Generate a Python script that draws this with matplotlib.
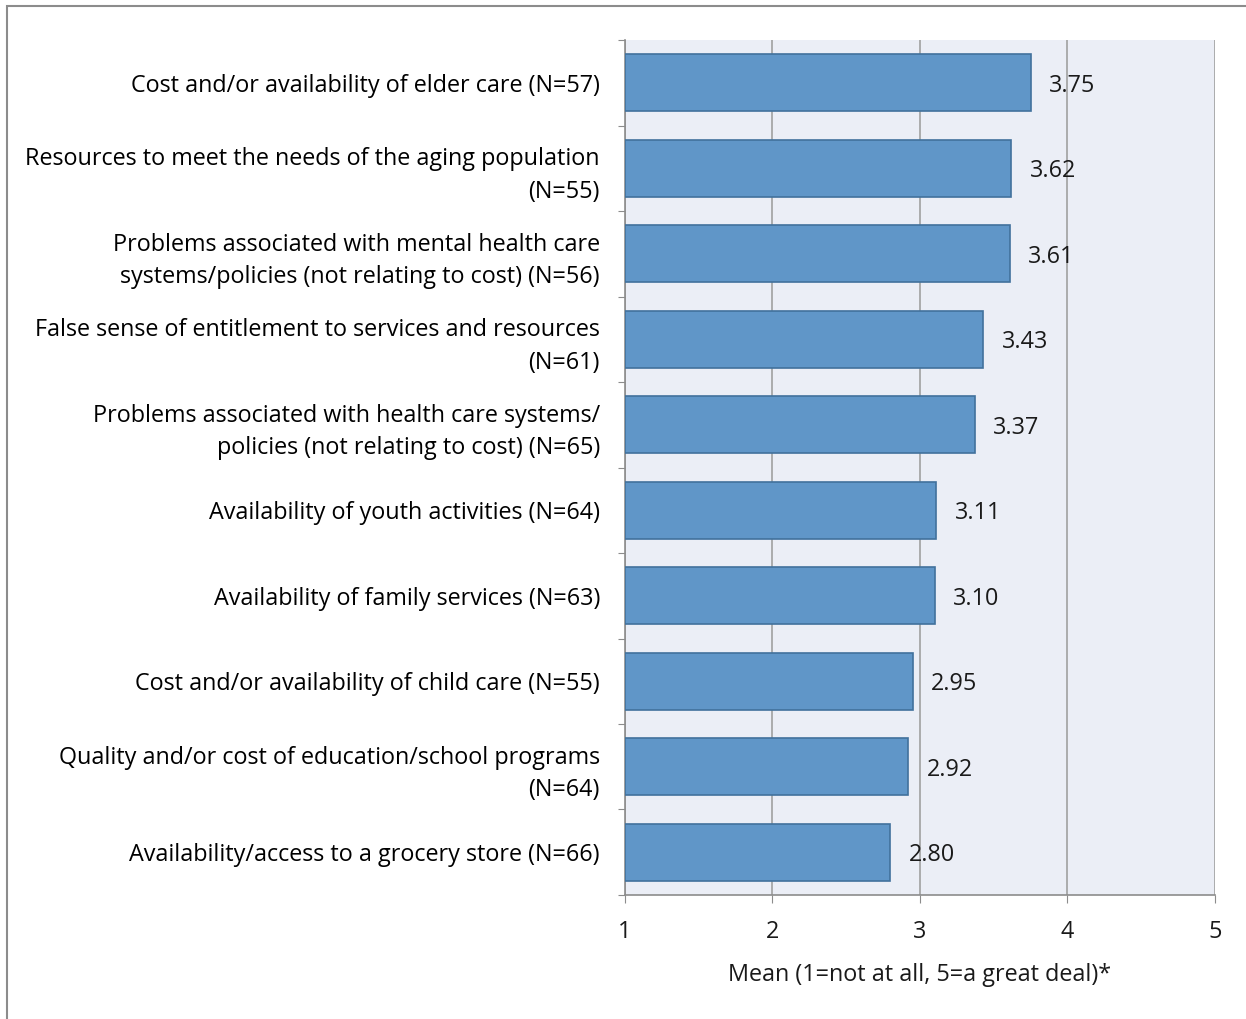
import matplotlib.pyplot as plt
from matplotlib.patches import Rectangle

categories = [
    'Cost and/or availability of elder care (N=57)',
    'Resources to meet the needs of the aging population\n(N=55)',
    'Problems associated with mental health care\nsystems/policies (not relating to cost) (N=56)',
    'False sense of entitlement to services and resources\n(N=61)',
    'Problems associated with health care systems/\npolicies (not relating to cost) (N=65)',
    'Availability of youth activities (N=64)',
    'Availability of family services (N=63)',
    'Cost and/or availability of child care (N=55)',
    'Quality and/or cost of education/school programs\n(N=64)',
    'Availability/access to a grocery store (N=66)',
]
means = [3.75, 3.62, 3.61, 3.43, 3.37, 3.11, 3.10, 2.95, 2.92, 2.80]
xticks = [1, 2, 3, 4, 5]

plt.rcParams['font.family'] = ['Open Sans', 'DejaVu Sans']
fs = 16.8

fig = plt.figure(figsize=(12.46, 10.19), dpi=100)
ax = fig.add_axes([0.5016, 0.1217, 0.4735, 0.8390])

# outer chart frame (left and top edges visible)
fig.patches.append(Rectangle((7 / 1246, -0.1), 1.2, 1 - 6 / 1019 + 0.1,
                             transform=fig.transFigure, fill=False,
                             edgecolor='#8c8c8c', linewidth=1.5))

ax.set_facecolor('#ebeef6')
n = len(categories)
ypos = list(range(n))
ax.barh(ypos, [m - 1 for m in means], left=1, height=0.67,
        color='#6096c8', edgecolor='#41719c', linewidth=1.2, zorder=3)

for y, m in zip(ypos, means):
    ax.text(m + 0.125, y, f'{m:.2f}', va='center_baseline', ha='left', fontsize=fs,
            color='#1a1a1a', zorder=4)

ax.set_xlim(1, 5)
ax.set_ylim(n - 0.5, -0.5)
ax.set_xticks(xticks)
ax.set_xticklabels([str(t) for t in xticks], fontsize=fs)
ax.xaxis.grid(True, color='#a0a0a0', linewidth=1.2, zorder=0)
ax.set_axisbelow(True)

ax.set_yticks([y - 0.5 for y in range(n + 1)])
ax.set_yticklabels([])
ax.set_yticks(ypos, minor=True)
ax.set_yticklabels(categories, minor=True, fontsize=fs, linespacing=1.48)
ax.tick_params(axis='y', which='minor', length=0, pad=18)
ax.tick_params(axis='y', which='major', length=5, color='#8c8c8c', direction='out')
ax.tick_params(axis='x', length=6, color='#8c8c8c', pad=12, labelcolor='#1a1a1a')

for side in ['top', 'right']:
    ax.spines[side].set_visible(False)
for side in ['left', 'bottom']:
    ax.spines[side].set_color('#8c8c8c')
    ax.spines[side].set_linewidth(1.2)

ax.set_xlabel('Mean (1=not at all, 5=a great deal)*', fontsize=fs, labelpad=14,
              color='#1a1a1a')

fig.savefig('out.png', dpi=100)
